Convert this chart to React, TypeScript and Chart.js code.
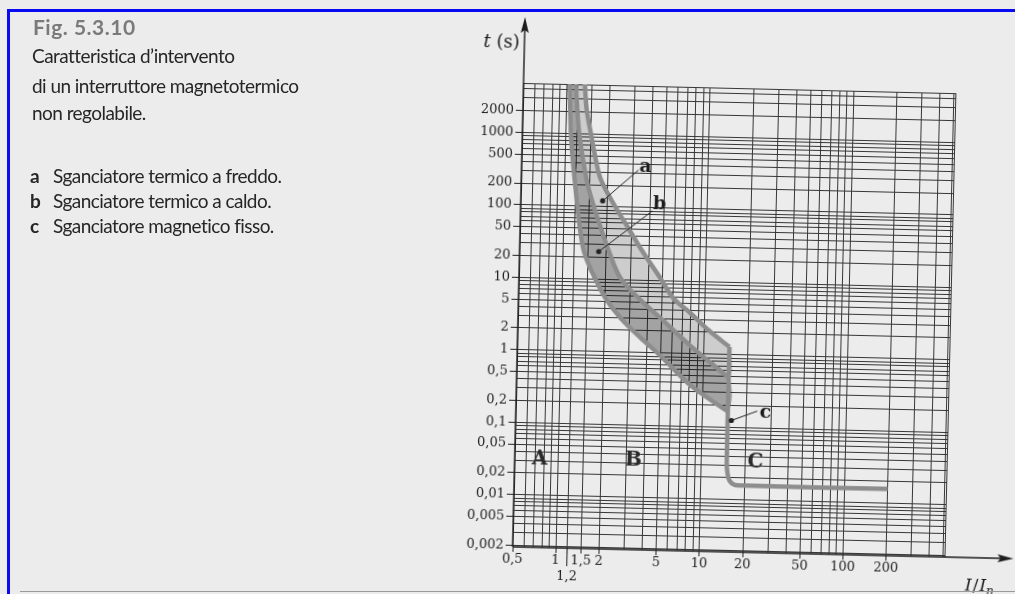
import React, { useEffect, useRef } from 'react';
import { Chart, registerables } from 'chart.js';

Chart.register(...registerables);

// ---- axis ranges & ticks ----
const X_MIN = 0.5;
const X_MAX = 510;
const Y_MIN = 0.0019;
const Y_MAX = 4800;

const xLabelTicks = [0.5, 1, 1.2, 1.5, 2, 5, 10, 20, 50, 100, 200];
const xLabelTexts = ['0,5', '1', '1,2', '1,5', '2', '5', '10', '20', '50', '100', '200'];
const xGridLines = [0.5, 0.6, 0.7, 0.8, 0.9, 1, 1.2, 1.5, 2, 3, 4, 5, 6, 7, 8, 9, 10, 20, 30, 40, 50, 60, 70, 80, 90, 100, 200, 300, 400, 500];

const yLabelTicks = [0.002, 0.005, 0.01, 0.02, 0.05, 0.1, 0.2, 0.5, 1, 2, 5, 10, 20, 50, 100, 200, 500, 1000, 2000];
const yLabelTexts = ['0,002', '0,005', '0,01', '0,02', '0,05', '0,1', '0,2', '0,5', '1', '2', '5', '10', '20', '50', '100', '200', '500', '1000', '2000'];
const yGridLines = [
  0.002, 0.003, 0.004, 0.005, 0.006, 0.007, 0.008, 0.009,
  0.01, 0.02, 0.03, 0.04, 0.05, 0.06, 0.07, 0.08, 0.09,
  0.1, 0.2, 0.3, 0.4, 0.5, 0.6, 0.7, 0.8, 0.9,
  1, 2, 3, 4, 5, 6, 7, 8, 9,
  10, 20, 30, 40, 50, 60, 70, 80, 90,
  100, 200, 300, 400, 500, 600, 700, 800, 900,
  1000, 2000, 3000, 4000,
];

// ---- curves (I/In , t in s) ----
const curveL_I = [1.05, 1.085, 1.133, 1.2, 1.276, 1.399, 1.63, 2.02, 2.59, 3.6, 4.99, 7.76, 10.7, 15];
const curveL_t = [5000, 1138, 443, 172, 67, 24.5, 11.9, 5.47, 2.95, 1.6, 0.916, 0.399, 0.252, 0.165];

const curveM_I = [1.156, 1.233, 1.353, 1.48, 1.73, 2.086, 2.554, 3.55, 4.92, 8.03, 15];
const curveM_t = [5000, 1158, 385, 174, 67.9, 24.9, 10.4, 5.29, 3.03, 1.285, 0.48];

const curveR_I = [1.335, 1.39, 1.496, 1.637, 1.787, 2.22, 2.71, 3.48, 4.84, 6.0, 7.93, 10.6, 15];
const curveR_t = [5000, 2160, 1050, 450, 240, 110, 59.3, 27.3, 10.7, 5.76, 3.63, 2.16, 1.28];

const curveC_I = [15, 15, 15.25, 15.8, 17, 20, 200];
const curveC_t = [1.28, 0.033, 0.023, 0.0183, 0.0162, 0.0158, 0.0158];

// ---- annotations ----
const pointerStartI = [1.86, 1.78, 15.9];
const pointerStartT = [120.5, 24, 0.124];
const pointerEndI = [3.27, 4.15, 24];
const pointerEndT = [330, 91, 0.17];
const curveLabels = ['a', 'b', 'c'];
const curveLabelI = [3.65, 4.63, 27.3];
const curveLabelT = [365, 112, 0.163];
const regionLabels = ['A', 'B', 'C'];
const regionLabelI = [0.748, 3.36, 23.7];
const regionLabelT = [0.0314, 0.0327, 0.0335];

const pts = (xs: number[], ys: number[]) => xs.map((x, i) => ({ x, y: ys[i] }));

const lineL = pts(curveL_I, curveL_t);
const lineM = pts(curveM_I, curveM_t);
const lineR = pts(curveR_I, curveR_t);
const lineC = pts(curveC_I, curveC_t);
const bandDark = [...lineL, ...lineM.slice().reverse()];
const bandLight = [...lineM, ...lineR.slice().reverse()];

const CURVE_COLOR = '#8d8d8d';
const SERIF = '"DejaVu Serif", serif';

const overlayPlugin = {
  id: 'overlay',
  afterDatasetsDraw(chart: any) {
    const { ctx, chartArea: a, scales } = chart;
    const xs = scales.x;
    const ys = scales.y;
    ctx.save();
    ctx.strokeStyle = '#1c1c1c';
    ctx.fillStyle = '#1c1c1c';
    ctx.lineWidth = 1.4;
    // y axis with arrow
    const yTip = a.top - 66;
    ctx.beginPath();
    ctx.moveTo(a.left, a.bottom);
    ctx.lineTo(a.left, yTip + 10);
    ctx.stroke();
    ctx.beginPath();
    ctx.moveTo(a.left, yTip);
    ctx.lineTo(a.left - 4, yTip + 16);
    ctx.lineTo(a.left, yTip + 13);
    ctx.lineTo(a.left + 4, yTip + 16);
    ctx.closePath();
    ctx.fill();
    // x axis with arrow
    const xTip = a.right + 69;
    ctx.beginPath();
    ctx.moveTo(a.left, a.bottom);
    ctx.lineTo(xTip - 10, a.bottom);
    ctx.stroke();
    ctx.beginPath();
    ctx.moveTo(xTip, a.bottom);
    ctx.lineTo(xTip - 16, a.bottom - 4);
    ctx.lineTo(xTip - 13, a.bottom);
    ctx.lineTo(xTip - 16, a.bottom + 4);
    ctx.closePath();
    ctx.fill();
    // long tick for 1,2
    ctx.lineWidth = 1;
    const x12 = xs.getPixelForValue(1.2);
    ctx.beginPath();
    ctx.moveTo(x12, a.bottom);
    ctx.lineTo(x12, a.bottom + 18);
    ctx.stroke();

    // axis titles
    ctx.textBaseline = 'alphabetic';
    ctx.textAlign = 'left';
    ctx.font = `italic 18px ${SERIF}`;
    const tx = a.left - 41;
    const ty = a.top - 35;
    ctx.fillText('t', tx, ty);
    const tw = ctx.measureText('t').width;
    ctx.font = `18px ${SERIF}`;
    ctx.fillText(' (s)', tx + tw, ty);

    const ix = a.right + 21;
    const iy = a.bottom + 33;
    ctx.font = `italic 17px ${SERIF}`;
    ctx.fillText('I', ix, iy);
    let w = ctx.measureText('I').width;
    ctx.font = `17px ${SERIF}`;
    ctx.fillText('/', ix + w + 1, iy);
    w += ctx.measureText('/').width + 2;
    ctx.font = `italic 17px ${SERIF}`;
    ctx.fillText('I', ix + w, iy);
    w += ctx.measureText('I').width;
    ctx.font = `italic 12px ${SERIF}`;
    ctx.fillText('n', ix + w, iy + 4);

    // curve labels
    ctx.textAlign = 'center';
    ctx.textBaseline = 'middle';
    ctx.font = `bold 19px ${SERIF}`;
    curveLabels.forEach((s, i) => {
      ctx.fillText(s, xs.getPixelForValue(curveLabelI[i]), ys.getPixelForValue(curveLabelT[i]));
    });
    ctx.font = `bold 20px ${SERIF}`;
    ctx.fillStyle = '#2a2a2a';
    regionLabels.forEach((s, i) => {
      ctx.fillText(s, xs.getPixelForValue(regionLabelI[i]), ys.getPixelForValue(regionLabelT[i]));
    });
    ctx.restore();
  },
};

const pointerDataset = (i: number) => ({
  data: [
    { x: pointerStartI[i], y: pointerStartT[i] },
    { x: pointerEndI[i], y: pointerEndT[i] },
  ],
  borderColor: '#222',
  borderWidth: 1,
  pointRadius: [2.6, 0],
  pointBackgroundColor: '#222',
  pointBorderWidth: 0,
  tension: 0,
  fill: false,
});

const tickFont = { family: SERIF, size: 13 };

export default function App() {
  const ref = useRef<HTMLCanvasElement>(null);
  useEffect(() => {
    document.body.style.margin = '0';
    document.body.style.background = '#ececec';
    const chart = new Chart(ref.current as HTMLCanvasElement, {
      type: 'line',
      data: {
        datasets: [
          pointerDataset(0),
          pointerDataset(1),
          pointerDataset(2),
          { data: lineR, borderColor: CURVE_COLOR, borderWidth: 4.5, pointRadius: 0, tension: 0.35, fill: false },
          { data: lineM, borderColor: CURVE_COLOR, borderWidth: 4.5, pointRadius: 0, tension: 0.35, fill: false },
          { data: lineL, borderColor: CURVE_COLOR, borderWidth: 4.5, pointRadius: 0, tension: 0.35, fill: false },
          { data: lineC, borderColor: CURVE_COLOR, borderWidth: 4.5, pointRadius: 0, tension: 0.3, fill: false },
          { data: bandDark, borderColor: 'rgba(0,0,0,0)', borderWidth: 0, pointRadius: 0, tension: 0.35, fill: 'shape', backgroundColor: 'rgba(0,0,0,0.31)' },
          { data: bandLight, borderColor: 'rgba(0,0,0,0)', borderWidth: 0, pointRadius: 0, tension: 0.35, fill: 'shape', backgroundColor: 'rgba(0,0,0,0.13)' },
        ] as any,
      },
      options: {
        responsive: false,
        animation: false,
        events: [],
        layout: { padding: { left: 458, top: 88, right: 90, bottom: 8 } },
        plugins: { legend: { display: false }, tooltip: { enabled: false } },
        scales: {
          x: {
            type: 'logarithmic',
            min: X_MIN,
            max: X_MAX,
            afterBuildTicks: (s: any) => {
              s.ticks = [...xGridLines, X_MAX].map((v) => ({ value: v }));
            },
            afterFit: (s: any) => {
              s.height = 40;
            },
            border: { display: false },
            grid: {
              color: '#363636',
              lineWidth: 1,
              tickLength: 5,
              tickColor: (c: any) => (xLabelTicks.includes(c.tick?.value) ? '#222' : 'rgba(0,0,0,0)'),
            },
            ticks: {
              autoSkip: false,
              maxRotation: 0,
              minRotation: 0,
              padding: 0,
              color: '#1e1e1e',
              font: tickFont,
              callback: (v: any) => {
                const i = xLabelTicks.indexOf(v);
                if (i < 0) return '';
                return v === 1.2 ? ['', xLabelTexts[i]] : xLabelTexts[i];
              },
            },
          },
          y: {
            type: 'logarithmic',
            min: Y_MIN,
            max: Y_MAX,
            afterBuildTicks: (s: any) => {
              s.ticks = [...yGridLines, Y_MAX].map((v) => ({ value: v }));
            },
            afterFit: (s: any) => {
              s.width = 60;
            },
            border: { display: false },
            grid: {
              color: '#363636',
              lineWidth: 1,
              tickLength: 7,
              tickColor: (c: any) => (yLabelTicks.includes(c.tick?.value) ? '#222' : 'rgba(0,0,0,0)'),
            },
            ticks: {
              autoSkip: false,
              padding: 2,
              color: '#1e1e1e',
              font: tickFont,
              callback: (v: any) => {
                const i = yLabelTicks.indexOf(v);
                return i < 0 ? '' : yLabelTexts[i];
              },
            },
          },
        },
      } as any,
      plugins: [overlayPlugin],
    });
    return () => chart.destroy();
  }, []);

  const textColor = '#262626';
  const bodyFont: React.CSSProperties = {
    position: 'absolute',
    left: 32,
    fontFamily: 'Lato, sans-serif',
    fontSize: 19,
    lineHeight: '19px',
    letterSpacing: '-0.55px',
    color: textColor,
    whiteSpace: 'nowrap',
  };
  const legendRow = (top: number, letter: string, text: string) => (
    <div style={{ ...bodyFont, top, left: 30 }}>
      <span style={{ fontWeight: 700, display: 'inline-block', width: 23 }}>{letter}</span>
      {text}
    </div>
  );

  return (
    <div style={{ position: 'relative', width: 1015, height: 594, overflow: 'hidden', background: '#ececec' }}>
      <div
        style={{
          position: 'absolute',
          left: 0,
          top: 0,
          width: 1040,
          height: 600,
          transform: 'rotate(1.35deg)',
          transformOrigin: '734px 320px',
        }}
      >
        <canvas ref={ref} width={1040} height={600} style={{ display: 'block', width: 1040, height: 600 }} />
      </div>
      <div style={{ position: 'absolute', left: 7, top: 9, width: 1008, height: 3, background: '#0a0af0' }} />
      <div style={{ position: 'absolute', left: 7, top: 9, width: 3, height: 585, background: '#0a0af0' }} />
      <div style={{ position: 'absolute', left: 20, top: 591, width: 995, height: 1, background: '#9a9a9a' }} />

      <div style={{ ...bodyFont, top: 16, left: 33, fontSize: 21, lineHeight: '21px', letterSpacing: '0.5px', fontWeight: 700, color: '#7a7a7a' }}>
        Fig. 5.3.10
      </div>
      <div style={{ ...bodyFont, top: 46 }}>Caratteristica d’intervento</div>
      <div style={{ ...bodyFont, top: 76 }}>di un interruttore magnetotermico</div>
      <div style={{ ...bodyFont, top: 103 }}>non regolabile.</div>
      {legendRow(166, 'a', 'Sganciatore termico a freddo.')}
      {legendRow(191, 'b', 'Sganciatore termico a caldo.')}
      {legendRow(216, 'c', 'Sganciatore magnetico fisso.')}
    </div>
  );
}
